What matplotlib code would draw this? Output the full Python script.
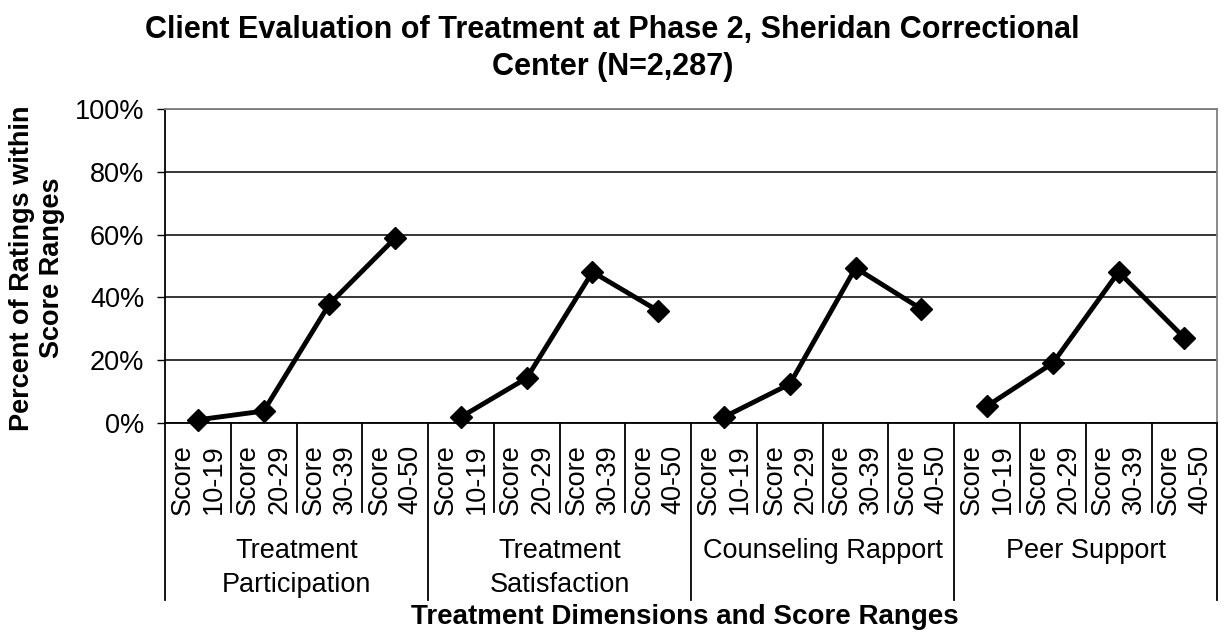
#! /usr/bin/env python3
import matplotlib
matplotlib.use('Agg')
import matplotlib.pyplot as plt
from matplotlib.ticker import PercentFormatter
import matplotlib.transforms as mtransforms

# values (percent of ratings)
GROUPS = ['Treatment\nParticipation', 'Treatment\nSatisfaction',
          'Counseling Rapport', 'Peer Support']
RANGES = ['Score\n10-19', 'Score\n20-29', 'Score\n30-39', 'Score\n40-50']

participation = [1.0, 3.8, 37.9, 58.9]
satisfaction = [1.9, 14.3, 48.1, 35.7]
rapport = [1.9, 12.4, 49.4, 36.3]
peer = [5.4, 19.1, 48.1, 27.1]

SERIES = [participation, satisfaction, rapport, peer]


def plot_evaluation():
    plt.rcParams['font.family'] = ['Liberation Sans', 'DejaVu Sans']

    fig = plt.figure(figsize=(12.25, 6.35), dpi=100)
    ax = fig.add_axes([0.1347, 0.3339, 0.859, 0.4944])

    n = len(RANGES)
    for g, values in enumerate(SERIES):
        xs = [g * n + i for i in range(n)]
        ax.plot(xs, values, color='black', linewidth=3.5, marker='D',
                markersize=11.5, markeredgewidth=1, clip_on=False, zorder=5)

    total = n * len(GROUPS)
    ax.set_xlim(-0.5, total - 0.5)
    ax.set_ylim(0, 100)
    ax.set_yticks(range(0, 101, 20))
    ax.yaxis.set_major_formatter(PercentFormatter(decimals=0))
    ax.tick_params(axis='y', labelsize=19.5, length=6, width=1, pad=9,
                   color='black')

    ax.set_xticks(range(total))
    ax.set_xticklabels(RANGES * len(GROUPS), rotation=90, fontsize=19.5,
                       linespacing=1.25)
    ax.tick_params(axis='x', length=0, pad=15)

    ax.grid(axis='y', color='black', linewidth=1.1)
    ax.set_axisbelow(True)
    for side in ['top', 'right']:
        ax.spines[side].set_color('#808080')
        ax.spines[side].set_linewidth(1.3)
    for side in ['left', 'bottom']:
        ax.spines[side].set_color('black')
        ax.spines[side].set_linewidth(1.3)

    # separators below the axis: short between ranges, long between groups
    trans = mtransforms.blended_transform_factory(ax.transData, ax.transAxes)
    for k in range(total + 1):
        x = k - 0.5
        bottom = -0.565 if k % n == 0 else -0.283
        ax.plot([x, x], [0, bottom], color='black', linewidth=1.3,
                transform=trans, clip_on=False)

    for g, name in enumerate(GROUPS):
        ax.text(g * n + (n - 1) / 2, -0.365, name, transform=trans,
                ha='center', va='top', fontsize=19.5, linespacing=1.4)

    fig.text(0.5, 0.977,
             'Client Evaluation of Treatment at Phase 2, Sheridan Correctional\n'
             'Center (N=2,287)',
             ha='center', va='top', fontsize=22, fontweight='bold',
             linespacing=1.3)
    fig.text(0.559, 0.029, 'Treatment Dimensions and Score Ranges',
             ha='center', va='center', fontsize=20, fontweight='bold')
    fig.text(0.03, 0.578, 'Percent of Ratings within\nScore Ranges',
             ha='center', va='center', rotation=90, fontsize=19.5,
             fontweight='bold', linespacing=1.2)

    fig.savefig('out.png', dpi=100)
    plt.close(fig)


def main():
    plot_evaluation()


if __name__ == '__main__':
    main()
